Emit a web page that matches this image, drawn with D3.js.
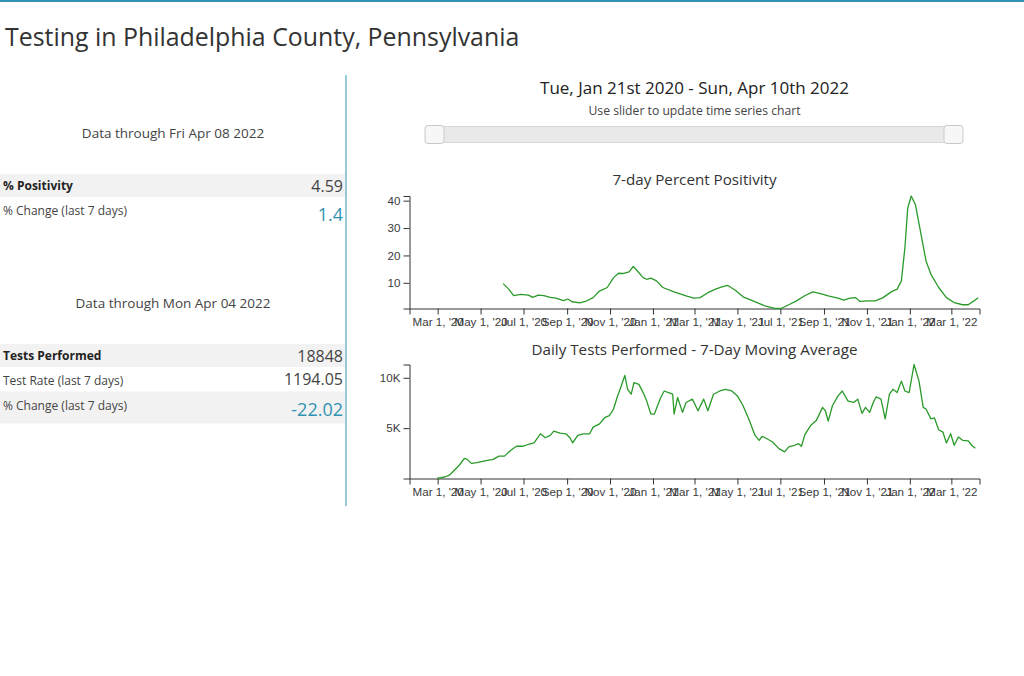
<!DOCTYPE html>
<html>
<head>
<meta charset="utf-8">
<script src="https://cdn.jsdelivr.net/npm/d3@7"></script>
<style>
  html, body { margin: 0; padding: 0; background: #fff; }
  svg { display: block; }
  .ui { font-family: "Open Sans", sans-serif; }
  .axis text { font-family: "Liberation Sans", Arial, sans-serif; font-size: 11.6px; fill: #3a3a3a; }
  .axis path, .axis line { stroke: #333; }
</style>
</head>
<body>
<svg id="page" width="1024" height="676"></svg>
<script>
// ---------------- DATA ----------------
const startDate = "2020-01-21";
const endDate = "2022-04-10";

// 7-day percent positivity: day offsets from startDate, values (%)
const posDays = [133,141,148,158,169,175,183,191,200,208,219,225,231,242,250,261,270,281,290,297,303,312,318,323,332,337,343,351,360,376,393,404,413,424,435,444,452,463,474,488,505,519,528,539,550,561,573,584,595,609,617,626,634,640,651,662,673,685,693,699,704,708,713,719,727,734,741,752,763,774,786,794,802,808];
const posValues = [9.7,7.7,5.3,5.8,5.5,4.7,5.5,5.3,4.7,4.4,3.5,4.1,3.1,2.7,3.2,4.6,7.0,8.3,11.9,13.5,13.4,14.0,16.0,14.6,11.9,11.3,11.7,10.7,8.3,6.7,5.2,4.4,4.6,6.4,7.7,8.5,9.1,7.3,4.9,3.4,1.6,0.7,0.63,2.0,3.4,5.2,6.7,6.1,5.2,4.4,3.7,4.4,4.6,3.2,3.4,3.4,4.6,6.8,7.7,10.7,22.8,37.3,41.7,38.5,27.6,18.0,13.1,8.3,4.6,2.8,2.0,2.0,3.4,4.59];

// Daily tests performed, 7-day moving average
const testDays = [39,50,56,62,71,78,82,88,96,107,119,127,135,144,152,161,169,177,186,193,200,205,214,222,228,232,239,247,256,261,270,278,284,290,295,300,306,310,315,319,326,332,337,343,348,357,362,368,374,376,381,388,393,402,410,418,424,432,441,449,458,466,474,483,491,497,501,508,516,525,533,539,547,553,557,562,570,578,587,591,595,601,609,615,623,631,637,643,648,654,659,663,670,676,682,687,693,699,704,710,717,724,730,734,741,746,752,758,763,769,774,780,786,794,799,804];
const testValues = [20,150,300,690,1340,2000,1900,1500,1570,1760,1900,2220,2220,2810,3200,3200,3400,3530,4440,4050,4280,4700,4510,4440,4050,3530,4280,4440,4440,5100,5420,6080,6240,6900,8040,9020,10230,8860,8370,9510,9350,8530,7710,6400,6400,8040,8690,8530,8370,6400,8040,6570,7550,7880,6730,7880,6730,8370,8690,8860,8690,8200,7220,5750,4280,3790,4180,3950,3630,2970,2650,3140,3300,3460,3200,4380,5260,5750,7060,6730,5690,7220,8200,8690,7710,7550,7880,6470,7060,6570,7550,8100,7880,5920,8370,8860,8530,9670,8690,8530,11320,9670,7060,6900,5920,6010,4840,4610,3530,4440,3300,4120,3790,3730,3300,3000];

const testTicks = [5000, 10000];

// Summary table
const posDateLabel = "Data through Fri Apr 08 2022";
const posRows = [["% Positivity", "4.59"], ["% Change (last 7 days)", "1.4"]];
const testDateLabel = "Data through Mon Apr 04 2022";
const testRows = [["Tests Performed", "18848"], ["Test Rate (last 7 days)", "1194.05"], ["% Change (last 7 days)", "-22.02"]];

// ---------------- DRAW ----------------
const TEAL = "#2f93b1";
const LINE = "#2a9a2a";
const svg = d3.select("#page");
const parse = d3.utcParse("%Y-%m-%d");
const t0 = parse(startDate), t1 = parse(endDate);
const toDate = d => d3.utcDay.offset(t0, d);

svg.append("rect").attr("x", 0).attr("y", 0).attr("width", 1024).attr("height", 2).attr("fill", TEAL);
svg.append("text").attr("class", "ui").attr("x", 5).attr("y", 46)
  .attr("font-size", 24.9).attr("fill", "#333").text("Testing in Philadelphia County, Pennsylvania");

// left panel
function table(label, rows, labelY, rowTop, rowHeights, shaded) {
  svg.append("text").attr("class", "ui").attr("x", 173).attr("y", labelY)
    .attr("text-anchor", "middle").attr("font-size", 13.5).attr("fill", "#444").text(label);
  let y = rowTop;
  rows.forEach((r, i) => {
    const h = rowHeights[i];
    if (shaded[i]) svg.append("rect").attr("x", 0).attr("y", y).attr("width", 345).attr("height", h).attr("fill", "#f2f2f2");
    const bold = i === 0;
    svg.append("text").attr("class", "ui").attr("x", 3).attr("y", y + (i === 0 ? 16 : 18))
      .attr("font-size", 12).attr("font-weight", bold ? 700 : 400).attr("fill", bold ? "#222" : "#444").text(r[0]);
    const teal = r[0].startsWith("% Change");
    svg.append("text").attr("class", "ui").attr("x", 343).attr("y", y + (teal ? 24 : 18))
      .attr("text-anchor", "end").attr("font-size", teal ? 18 : 16)
      .attr("fill", teal ? TEAL : "#444").text(r[1]);
    y += h;
  });
}
table(posDateLabel, posRows, 138, 174, [23, 30], [true, false]);
table(testDateLabel, testRows, 308, 344, [23, 24.5, 32], [true, false, true]);

svg.append("line").attr("x1", 346).attr("x2", 346).attr("y1", 75).attr("y2", 506)
  .attr("stroke", TEAL).attr("stroke-width", 1);

// header + slider
svg.append("text").attr("class", "ui").attr("x", 694.5).attr("y", 94).attr("text-anchor", "middle")
  .attr("font-size", 17).attr("fill", "#222").text("Tue, Jan 21st 2020 - Sun, Apr 10th 2022");
svg.append("text").attr("class", "ui").attr("x", 694.5).attr("y", 115).attr("text-anchor", "middle")
  .attr("font-size", 12.2).attr("fill", "#444").text("Use slider to update time series chart");

const slider = d3.scaleUtc().domain([t0, t1]).range([434.5, 953.5]);
svg.append("rect").attr("x", slider.range()[0]).attr("y", 126.5).attr("width", slider.range()[1] - slider.range()[0])
  .attr("height", 16).attr("fill", "#e9e9e9").attr("stroke", "#d6d6d6");
[t0, t1].forEach(t => {
  svg.append("rect").attr("x", slider(t) - 9.5).attr("y", 125.5).attr("width", 19).attr("height", 18).attr("rx", 3)
    .attr("fill", "#f7f7f7").attr("stroke", "#c9c9c9");
});

// charts
const x = d3.scaleUtc().domain([t0, t1]).range([409.5, 979.5]);
const xAxis = d3.axisBottom(x).ticks(d3.utcMonth.every(2)).tickFormat(d3.utcFormat("%b %-d, '%y"));

function chart(title, titleY, days, values, yTop, yBottom, yDomain, yAxisFn) {
  const y = d3.scaleLinear().domain(yDomain).range([yBottom, yTop]);
  svg.append("text").attr("class", "ui").attr("x", 694.5).attr("y", titleY).attr("text-anchor", "middle")
    .attr("font-size", 15.2).attr("fill", "#333").text(title);
  svg.append("g").attr("class", "axis").attr("transform", `translate(0,${yBottom})`).call(xAxis);
  svg.append("g").attr("class", "axis").attr("transform", `translate(${x.range()[0]},0)`).call(yAxisFn(y));
  svg.selectAll(".axis").attr("font-family", null).attr("font-size", null);
  const pts = days.map((d, i) => [toDate(d), values[i]]);
  svg.append("path").datum(pts).attr("fill", "none").attr("stroke", LINE).attr("stroke-width", 1.3)
    .attr("stroke-linejoin", "round")
    .attr("d", d3.line().x(p => x(p[0])).y(p => y(p[1])));
}

chart("7-day Percent Positivity", 185, posDays, posValues, 196, 308.5, d3.extent(posValues),
  y => d3.axisLeft(y).ticks(5));
chart("Daily Tests Performed - 7-Day Moving Average", 355, testDays, testValues, 364.5, 478.5, [0, d3.max(testValues)],
  y => d3.axisLeft(y).tickValues(testTicks).tickFormat(d => d / 1000 + "K"));
</script>
</body>
</html>
